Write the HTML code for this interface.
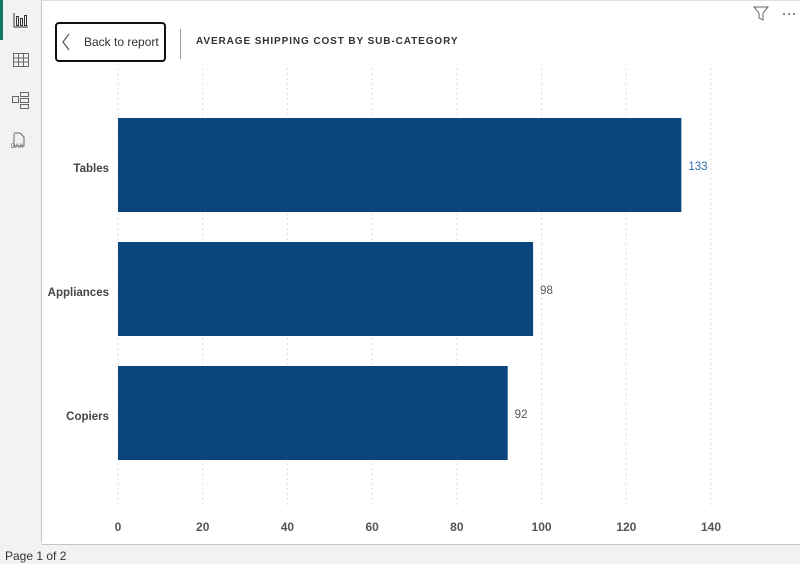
<!DOCTYPE html>
<html><head><meta charset="utf-8"><style>
body{margin:0;width:800px;height:564px;overflow:hidden;background:#f3f2f1;font-family:"Liberation Sans",sans-serif;position:relative}
#side{position:absolute;left:0;top:0;width:41px;height:543px;background:#f3f2f1;border-right:1px solid #c8c6c4}
#main{position:absolute;left:42px;top:0;width:758px;height:543px;background:#fff;border-bottom:1px solid #c8c6c4;border-top:1px solid #e1dfdd}
#back{position:absolute;left:55px;top:22px;width:107px;height:36px;border:2px solid #111;border-radius:4px;background:#fff;font-size:12px;color:#333}
#title{position:absolute;left:196px;top:36px;font-size:10px;font-weight:bold;letter-spacing:0.9px;color:#333}
#footer{position:absolute;left:5px;top:549px;font-size:12px;color:#333}
</style></head><body>
<div id="side">
<div style="position:absolute;left:0;top:0;width:3px;height:40px;background:#117865"></div>
<svg width="41" height="160">
<g stroke="#333" fill="none" stroke-width="1"><path d="M14 13v14h14"/><rect x="16.5" y="16.5" width="2" height="9"/><rect x="20.5" y="18.5" width="2" height="7"/><rect x="24.5" y="15.5" width="2" height="10"/></g>
<g stroke="#666" fill="none"><rect x="13.5" y="53.5" width="15" height="13"/><path d="M13.5 58h15M13.5 62h15M18.5 53.5v13M23.5 53.5v13"/>
<rect x="12.5" y="96.5" width="6" height="6"/><rect x="20.5" y="92.5" width="8" height="4"/><rect x="20.5" y="98.5" width="8" height="4"/><rect x="20.5" y="104.5" width="8" height="4"/>
<path d="M14 134v12h10v-9l-4-4h-6"/></g><text x="11" y="148" font-size="6" fill="#555">DAX</text></svg></div>
<div id="main"></div>
<div id="back"><svg style="position:absolute;left:4px;top:9px" width="10" height="18"><path d="M8 1L2 9l6 8" fill="none" stroke="#555" stroke-width="1.2"/></svg><span style="position:absolute;left:27px;top:11px">Back to report</span></div>
<div style="position:absolute;left:180px;top:29px;width:1px;height:30px;background:#999"></div>
<div id="title">AVERAGE SHIPPING COST BY SUB-CATEGORY</div>
<svg style="position:absolute;left:752px;top:5px" width="46" height="18"><path d="M2 2h14l-5 6v7l-4-2v-5z" fill="none" stroke="#666"/><circle cx="32" cy="9" r="1" fill="#666"/><circle cx="37" cy="9" r="1" fill="#666"/><circle cx="42" cy="9" r="1" fill="#666"/></svg>
<svg id="chart" style="position:absolute;left:0;top:0" width="800" height="543"></svg>
<div id="footer">Page 1 of 2</div>
<script>
const categories=["Tables","Appliances","Copiers"];
const values=[133,98,92];
const ticks=[0,20,40,60,80,100,120,140];
const ns="http://www.w3.org/2000/svg",svg=document.getElementById("chart");
const x=v=>118+v*593/140;
const y=i=>118+i*124;
function mk(t,a){const e=document.createElementNS(ns,t);for(const k in a)e.setAttribute(k,a[k]);svg.appendChild(e);return e;}
ticks.forEach(t=>{
 const l=mk("line",{x1:x(t),x2:x(t),y1:68,y2:508,stroke:"#ddd","stroke-dasharray":"2,3"});
 
 
 const tx=mk("text",{x:x(t),y:531,"text-anchor":"middle","font-size":12,"font-weight":"bold",fill:"#555"});tx.textContent=t;
 
 
});
categories.forEach((c,i)=>{
 const r=mk("rect",{x:x(0),y:y(i),width:x(values[i])-x(0),height:94,fill:"#0a467d"});
 
 
 const lb=mk("text",{x:109,y:y(i)+54,"text-anchor":"end","font-size":11.5,"font-weight":"bold",fill:"#444"});lb.textContent=c;
 
 
 const v=mk("text",{x:x(values[i])+7,y:y(i)+52,"font-size":11.5,fill:i==0?"#2b6cb0":"#555"});v.textContent=values[i];
 
 
});
</script>
</body></html>
